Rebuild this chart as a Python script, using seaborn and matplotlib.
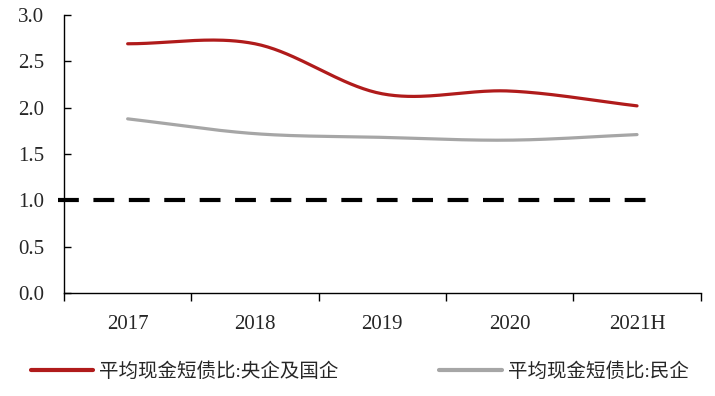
import numpy as np
import pandas as pd
import matplotlib
matplotlib.use("Agg")
import matplotlib.pyplot as plt
import seaborn as sns

years = ["2017", "2018", "2019", "2020", "2021H"]
soe = [2.69, 2.69, 2.15, 2.18, 2.02]
private = [1.88, 1.72, 1.68, 1.65, 1.71]
threshold = 1.0
label_soe = "平均现金短债比:央企及国企"
label_private = "平均现金短债比:民企"

sns.set_theme(style="white")
plt.rcParams["font.family"] = ["Liberation Serif", "Noto Sans CJK SC"]


def smooth(y, n=40):
    # Catmull-Rom style smoothing, like Excel's smoothed line
    y = np.asarray(y, dtype=float)
    x = np.arange(len(y), dtype=float)
    p = np.concatenate([[2 * y[0] - y[1]], y, [2 * y[-1] - y[-2]]])
    xs, ys = [], []
    for i in range(len(y) - 1):
        t = np.linspace(0, 1, n, endpoint=(i == len(y) - 2))
        p0, p1, p2, p3 = p[i], p[i + 1], p[i + 2], p[i + 3]
        yy = 0.5 * ((2 * p1) + (-p0 + p2) * t + (2 * p0 - 5 * p1 + 4 * p2 - p3) * t ** 2
                    + (-p0 + 3 * p1 - 3 * p2 + p3) * t ** 3)
        xs.append(x[i] + t)
        ys.append(yy)
    return np.concatenate(xs), np.concatenate(ys)


xs, ys1 = smooth(soe)
_, ys2 = smooth(private)
df = pd.concat([
    pd.DataFrame({"x": xs, "y": ys1, "s": label_soe}),
    pd.DataFrame({"x": xs, "y": ys2, "s": label_private}),
])

fig = plt.figure(figsize=(7.15, 3.96), dpi=100)
ax = fig.add_axes([0.0895, 0.26, 0.8905, 0.702])

sns.lineplot(data=df, x="x", y="y", hue="s", sort=False,
             palette={label_soe: "#B01B1B", label_private: "#A6A6A6"},
             linewidth=2.3, ax=ax, legend=False)

ax.plot([-0.55, 4.16], [threshold, threshold], color="black", lw=3,
        linestyle=(0, (5, 3.5)), clip_on=False)

ax.set_xlim(-0.5, 4.5)
ax.set_ylim(0, 3.0)
ax.set_yticks(np.arange(0, 3.01, 0.5))
ax.set_yticklabels([f"{v:.1f}" for v in np.arange(0, 3.01, 0.5)], fontsize=15)
ax.set_xticks(range(len(years)))
ax.set_xticklabels(years, fontsize=15)
ax.set_xticks(np.arange(-0.5, 4.6, 1), minor=True)
ax.tick_params(axis="x", which="major", length=0, pad=16)
ax.tick_params(axis="x", which="minor", length=6, width=1, direction="out",
               bottom=True, color="black")
ax.tick_params(axis="y", length=5, width=1, direction="in", left=True,
               color="black", pad=14)
ax.set_xlabel("")
ax.set_ylabel("")
for side in ["top", "right"]:
    ax.spines[side].set_visible(False)
for side in ["left", "bottom"]:
    ax.spines[side].set_color("black")
    ax.spines[side].set_linewidth(1)

handles = [plt.Line2D([], [], color="#B01B1B", lw=3),
           plt.Line2D([], [], color="#A6A6A6", lw=3)]
fig.legend(handles, [label_soe, label_private], loc="center",
           bbox_to_anchor=(0.503, 0.062), ncol=2, frameon=False,
           fontsize=14, handlelength=3.2, handletextpad=0.3,
           columnspacing=5.2)

fig.savefig("out.png", dpi=100, facecolor="white")
